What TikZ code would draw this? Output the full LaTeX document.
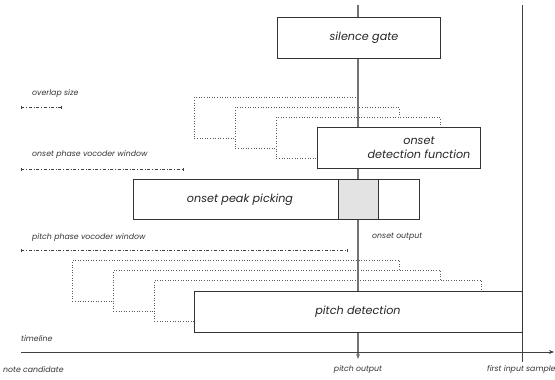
\documentclass[tikz,border=0pt]{standalone}
\usepackage{fontspec}
\setmainfont{Poppins}
\usetikzlibrary{arrows.meta}

\tikzset{
  box/.style={draw=black!80, fill=white, line width=0.8pt, inner sep=0pt, anchor=north west},
  ghost/.style={draw=black!65, dotted, fill=white, line width=0.6pt, inner sep=0pt, anchor=north west},
  lbl/.style={font=\itshape\fontsize{7.8}{9}\selectfont, text=black!80, inner sep=0pt, anchor=west},
  title/.style={font=\itshape\fontsize{11.2}{14}\selectfont, text=black!85, inner sep=0pt, align=center},
  span/.style={draw=black!75, dash dot, line width=0.6pt, {Bar[width=3pt]}-{Bar[width=3pt]}},
  flow/.style={draw=black!55, line width=1.2pt, -{Stealth[length=5pt,width=4pt]}},
  axisline/.style={draw=black!75, line width=0.8pt},
}

\begin{document}
\begin{tikzpicture}[x=1pt, y=-1pt]
\useasboundingbox (0,0) rectangle (555,380);

% upper analysis windows (onset)
\node[ghost, minimum width=164pt, minimum height=41pt] (ow1) at (194,97) {};
\node[ghost, minimum width=164pt, minimum height=41pt] (ow2) at (235,107) {};
\node[ghost, minimum width=164pt, minimum height=41pt] (ow3) at (276,117) {};

% lower analysis windows (pitch)
\node[ghost, minimum width=327pt, minimum height=41pt] (pw1) at (72,260) {};
\node[ghost, minimum width=327pt, minimum height=41pt] (pw2) at (113,270) {};
\node[ghost, minimum width=327pt, minimum height=41pt] (pw3) at (154,280) {};

% signal path and time references
\coordinate (top) at (358,5);
\coordinate (tip) at (358,359);
\draw[flow] (top) -- (tip);

\coordinate (r0) at (522,5);
\coordinate (r1) at (522,362);
\draw[axisline] (r0) -- (r1);

\coordinate (t0) at (21,352);
\coordinate (t1) at (554,352);
\draw[axisline, -{Stealth[length=5pt,width=4pt]}] (t0) -- (t1);

% processing blocks
\node[box, minimum width=163pt, minimum height=41pt] (gate) at (277,17) {};
\node[title] at (364,38) {silence gate};

\node[box, minimum width=163pt, minimum height=41pt] (odf) at (317,127) {};
\node[title] at (419,148) {onset\\detection function};

\node[box, minimum width=286pt, minimum height=40pt] (peak) at (133,179) {};
\node[box, fill=black!11, minimum width=40pt, minimum height=40pt] (peakwin) at (338,179) {};
\node[title] at (240,200) {onset peak picking};

\node[box, minimum width=328pt, minimum height=41pt] (pitch) at (194,291) {};
\node[title] at (358,312) {pitch detection};

% window size spans
\coordinate (ov0) at (21,107);  \coordinate (ov1) at (62,107);
\coordinate (on0) at (21,169);  \coordinate (on1) at (184,169);
\coordinate (pv0) at (21,250);  \coordinate (pv1) at (348,250);
\draw[span] (ov0) -- (ov1);
\draw[span] (on0) -- (on1);
\draw[span] (pv0) -- (pv1);

% labels
\node[lbl] at (32,94) {overlap size};
\node[lbl] at (32,155) {onset phase vocoder window};
\node[lbl] at (32,238) {pitch phase vocoder window};
\node[lbl] at (372,237) {onset output};
\node[lbl] at (21,339) {timeline};
\node[lbl] at (3,370) {note candidate};
\node[lbl, anchor=center] at (358,370) {pitch output};
\node[lbl] at (487,370) {first input sample};
\end{tikzpicture}
\end{document}
